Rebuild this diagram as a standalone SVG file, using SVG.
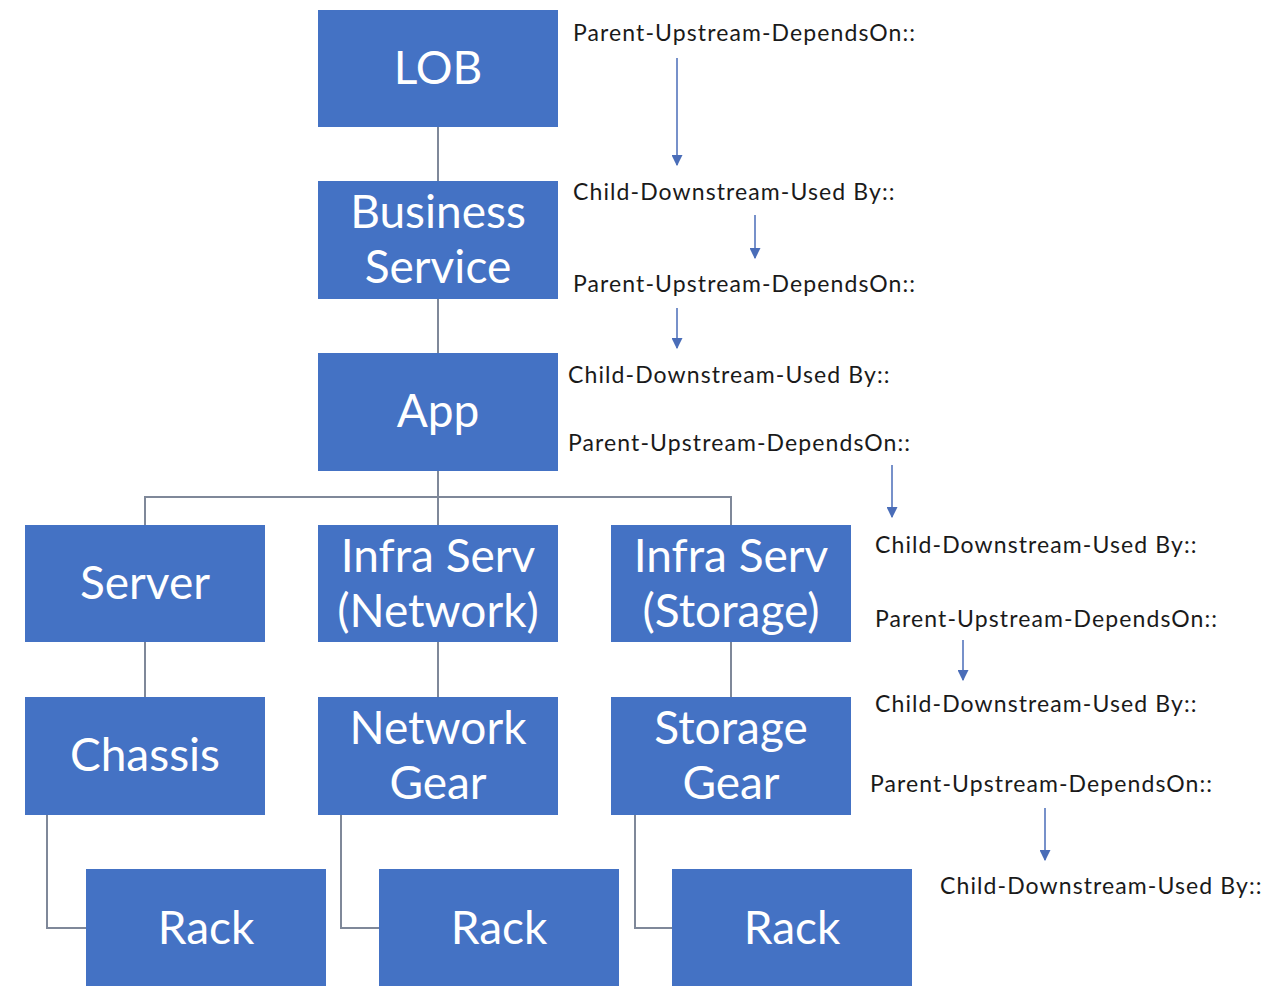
<svg xmlns="http://www.w3.org/2000/svg" width="1281" height="986" viewBox="0 0 1281 986">
<style>
.box{fill:#4472C4;}
.t{font-family:Lato,"Open Sans","Liberation Sans",sans-serif;font-size:46px;fill:#ffffff;text-anchor:middle;}
.lbl{font-family:Lato,"Open Sans","Liberation Sans",sans-serif;font-size:23px;letter-spacing:1.1px;fill:#1a1a1a;}
.con{fill:none;stroke:#7f8899;stroke-width:2;}
.arr{stroke:#4a6db8;stroke-width:1.5;fill:none;marker-end:url(#ah);}
</style>
<defs>
<marker id="ah" viewBox="0 0 10 10" refX="9" refY="5" markerWidth="11" markerHeight="11" markerUnits="userSpaceOnUse" orient="auto">
<path d="M0,0 L10,5 L0,10 z" fill="#4a6db8"/>
</marker>
</defs>
<rect width="1281" height="986" fill="#ffffff"/>
<g id="connectors">
<path class="con" d="M438,127 V181"/>
<path class="con" d="M438,299 V353"/>
<path class="con" d="M438,471 V525"/>
<path class="con" d="M145,525 V497 H731 V525"/>
<path class="con" d="M145,642 V697"/>
<path class="con" d="M438,642 V697"/>
<path class="con" d="M731,642 V697"/>
<path class="con" d="M47,815 V928 H86"/>
<path class="con" d="M341,815 V928 H379"/>
<path class="con" d="M635,815 V928 H672"/>
</g>
<g id="node-lob"><rect class="box" x="318" y="10" width="240" height="117"/><text class="t" x="438" y="84">LOB</text></g>
<g id="node-business-service"><rect class="box" x="318" y="181" width="240" height="118"/><text class="t" x="438" y="228">Business</text><text class="t" x="438" y="283">Service</text></g>
<g id="node-app"><rect class="box" x="318" y="353" width="240" height="118"/><text class="t" x="438" y="427">App</text></g>
<g id="node-server"><rect class="box" x="25" y="525" width="240" height="117"/><text class="t" x="145" y="599">Server</text></g>
<g id="node-infra-network"><rect class="box" x="318" y="525" width="240" height="117"/><text class="t" x="438" y="572">Infra Serv</text><text class="t" x="438" y="627">(Network)</text></g>
<g id="node-infra-storage"><rect class="box" x="611" y="525" width="240" height="117"/><text class="t" x="731" y="572">Infra Serv</text><text class="t" x="731" y="627">(Storage)</text></g>
<g id="node-chassis"><rect class="box" x="25" y="697" width="240" height="118"/><text class="t" x="145" y="771">Chassis</text></g>
<g id="node-network-gear"><rect class="box" x="318" y="697" width="240" height="118"/><text class="t" x="438" y="744">Network</text><text class="t" x="438" y="799">Gear</text></g>
<g id="node-storage-gear"><rect class="box" x="611" y="697" width="240" height="118"/><text class="t" x="731" y="744">Storage</text><text class="t" x="731" y="799">Gear</text></g>
<g id="node-rack-1"><rect class="box" x="86" y="869" width="240" height="117"/><text class="t" x="206" y="944">Rack</text></g>
<g id="node-rack-2"><rect class="box" x="379" y="869" width="240" height="117"/><text class="t" x="499" y="944">Rack</text></g>
<g id="node-rack-3"><rect class="box" x="672" y="869" width="240" height="117"/><text class="t" x="792" y="944">Rack</text></g>
<g id="annotations">
<text class="lbl" x="573" y="41">Parent-Upstream-DependsOn::</text>
<path class="arr" d="M677,58 V165"/>
<text class="lbl" x="573" y="200">Child-Downstream-Used By::</text>
<path class="arr" d="M755,215 V258"/>
<text class="lbl" x="573" y="292">Parent-Upstream-DependsOn::</text>
<path class="arr" d="M677,308 V348"/>
<text class="lbl" x="568" y="383">Child-Downstream-Used By::</text>
<text class="lbl" x="568" y="451">Parent-Upstream-DependsOn::</text>
<path class="arr" d="M892,465 V517"/>
<text class="lbl" x="875" y="553">Child-Downstream-Used By::</text>
<text class="lbl" x="875" y="627">Parent-Upstream-DependsOn::</text>
<path class="arr" d="M963,640 V680"/>
<text class="lbl" x="875" y="712">Child-Downstream-Used By::</text>
<text class="lbl" x="870" y="792">Parent-Upstream-DependsOn::</text>
<path class="arr" d="M1045,808 V860"/>
<text class="lbl" x="940" y="894">Child-Downstream-Used By::</text>
</g>
</svg>
